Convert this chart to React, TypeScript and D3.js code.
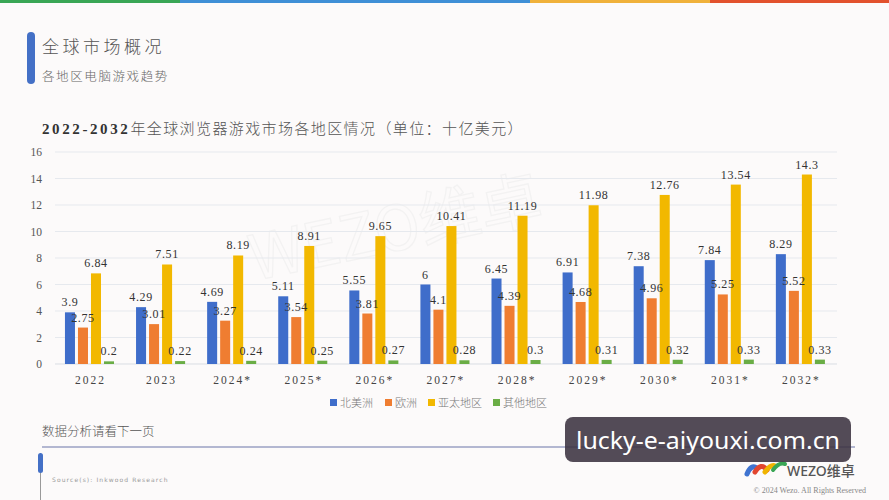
import React from "react";
import * as d3 from "d3";

const categories = ["2022", "2023", "2024*", "2025*", "2026*", "2027*", "2028*", "2029*", "2030*", "2031*", "2032*"];
const northAmerica = [3.9, 4.29, 4.69, 5.11, 5.55, 6, 6.45, 6.91, 7.38, 7.84, 8.29];
const europe = [2.75, 3.01, 3.27, 3.54, 3.81, 4.1, 4.39, 4.68, 4.96, 5.25, 5.52];
const asiaPacific = [6.84, 7.51, 8.19, 8.91, 9.65, 10.41, 11.19, 11.98, 12.76, 13.54, 14.3];
const others = [0.2, 0.22, 0.24, 0.25, 0.27, 0.28, 0.3, 0.31, 0.32, 0.33, 0.33];
const seriesNames = ["北美洲", "欧洲", "亚太地区", "其他地区"];
const seriesColors = ["#3f6dca", "#ef7d31", "#f2b800", "#6aad45"];
const yTicks = [0, 2, 4, 6, 8, 10, 12, 14, 16];

const W = 889;
const H = 500;
const SERIF = "'Liberation Serif', 'DejaVu Serif', serif";
const CJK = "'Noto Sans CJK SC', 'Noto Sans', sans-serif";

export default function App() {
  const series = [northAmerica, europe, asiaPacific, others];
  const x0 = d3.scaleBand<string>().domain(categories).range([55, 837]).padding(0);
  const bw = x0.bandwidth();
  const x1 = d3
    .scaleBand<number>()
    .domain([0, 1, 2, 3])
    .range([bw * 0.14, bw * 0.83])
    .paddingInner(0.23);
  const y = d3.scaleLinear().domain([0, 16]).range([364, 152]);

  const legendX = [330, 385, 428, 493];

  return (
    <div style={{ position: "fixed", left: 0, top: 0, width: W, height: H }}>
      <svg width={W} height={H} viewBox={`0 0 ${W} ${H}`} style={{ display: "block" }}>
        <rect x={0} y={0} width={W} height={H} fill="#fcfafa" />
        {/* top color strip */}
        <rect x={0} y={0} width={180} height={3} fill="#3aa655" />
        <rect x={180} y={0} width={350} height={3} fill="#3f8fd6" />
        <rect x={530} y={0} width={180} height={3} fill="#f0b13a" />
        <rect x={710} y={0} width={179} height={3} fill="#e2512d" />

        {/* header */}
        <rect x={27} y={32} width={8} height={52} rx={4} fill="#4470c6" />
        <text x={42} y={53} fontFamily={CJK} fontSize={17} fill="#555" letterSpacing={3.5} fontWeight={300}>
          全球市场概况
        </text>
        <text x={42} y={81} fontFamily={CJK} fontSize={12.5} fill="#666" letterSpacing={1.6} fontWeight={300}>
          各地区电脑游戏趋势
        </text>

        {/* chart title */}
        <text x={42} y={134} fontSize={15} fill="#333">
          <tspan fontFamily={SERIF} fontWeight="bold" letterSpacing={2.6}>2022-2032</tspan>
          <tspan fontFamily={CJK} fill="#555" letterSpacing={1.4} fontWeight={300}>年全球浏览器游戏市场各地区情况（单位：十亿美元）</tspan>
        </text>

        {/* faint watermark */}
        <text
          x={400}
          y={250}
          fontFamily={CJK}
          fontSize={62}
          fill="none"
          stroke="#ececec"
          strokeWidth={1.2}
          transform="rotate(-12 400 250)"
          textAnchor="middle"
          opacity={0.55}
        >
          WEZO维卓
        </text>

        {/* gridlines and y ticks */}
        {yTicks.map((t) => (
          <g key={t}>
            <line x1={55} x2={837} y1={y(t)} y2={y(t)} stroke={t === 0 ? "#d9dde3" : "#e6e9ee"} strokeWidth={1} />
            <text x={42} y={y(t) + 4} textAnchor="end" fontFamily={SERIF} fontSize={11.5} fill="#555">
              {t}
            </text>
          </g>
        ))}

        {/* bars */}
        {categories.map((c, i) => (
          <g key={c} transform={`translate(${x0(c)},0)`}>
            {series.map((s, k) => (
              <rect
                key={k}
                x={x1(k)}
                y={y(s[i])}
                width={x1.bandwidth()}
                height={y(0) - y(s[i])}
                fill={seriesColors[k]}
              />
            ))}
          </g>
        ))}
        {/* labels */}
        {categories.map((c, i) => (
          <g key={c + "l"} transform={`translate(${x0(c)},0)`}>
            {series.map((s, k) => (
              <text
                key={k}
                x={(x1(k) as number) + x1.bandwidth() / 2}
                y={y(s[i]) - 6}
                textAnchor="middle"
                fontFamily={SERIF}
                fontSize={12}
                letterSpacing={0.6}
                fill="#333"
              >
                {s[i]}
              </text>
            ))}
            <text
              x={bw / 2}
              y={384}
              textAnchor="middle"
              fontFamily={SERIF}
              fontSize={11.5}
              letterSpacing={2}
              fill="#444"
            >
              {c}
            </text>
          </g>
        ))}

        {/* legend */}
        {seriesNames.map((n, k) => (
          <g key={n}>
            <rect x={legendX[k]} y={399} width={7} height={7} fill={seriesColors[k]} />
            <text x={legendX[k] + 10} y={406.5} fontFamily={CJK} fontSize={11} fill="#777" fontWeight={300}>
              {n}
            </text>
          </g>
        ))}

        {/* footer */}
        <text x={42} y={436} fontFamily={CJK} fontSize={12.5} fill="#555" fontWeight={300}>
          数据分析请看下一页
        </text>
        <line x1={42} x2={855} y1={447} y2={447} stroke="#6a74a8" strokeWidth={1.2} />
        <line x1={40.5} x2={40.5} y1={453} y2={500} stroke="#999" strokeWidth={1} />
        <rect x={38} y={453} width={5} height={20} rx={2.5} fill="#4470c6" />
        <text x={52} y={482} fontFamily={"'DejaVu Sans', sans-serif"} fontSize={6} letterSpacing={1.1} fill="#999">
          Source(s): Inkwood Research
        </text>

        {/* logo */}
        <g transform="translate(745,462)">
          <path d="M2 12 Q6 2 12 6" stroke="#3f73d0" strokeWidth={5} fill="none" strokeLinecap="round" />
          <path d="M10 10 Q16 0 22 8" stroke="#e2452f" strokeWidth={5} fill="none" strokeLinecap="round" />
          <path d="M20 10 Q26 2 30 4" stroke="#f0b400" strokeWidth={5} fill="none" strokeLinecap="round" />
          <path d="M28 8 Q34 0 40 2" stroke="#3aa655" strokeWidth={4} fill="none" strokeLinecap="round" />
        </g>
        <text x={787} y={476} fontFamily={"'Noto Sans', 'Noto Sans CJK SC', sans-serif"} fontSize={14} fill="#555" fontWeight={500}>
          WEZO维卓
        </text>
        <text x={866} y={493} textAnchor="end" fontFamily={SERIF} fontSize={8} fill="#888">
          © 2024 Wezo.   All Rights Reserved
        </text>

        {/* overlay watermark box */}
        <rect x={565} y={417} width={286} height={45} rx={8} fill="#3b3240" opacity={0.88} />
        <text
          x={708}
          y={449}
          textAnchor="middle"
          fontFamily={"'Noto Sans', 'Open Sans', sans-serif"}
          fontSize={24}
          fill="#ffffff"
          textLength={264}
          lengthAdjust="spacingAndGlyphs"
        >
          lucky-e-aiyouxi.com.cn
        </text>
      </svg>
    </div>
  );
}
